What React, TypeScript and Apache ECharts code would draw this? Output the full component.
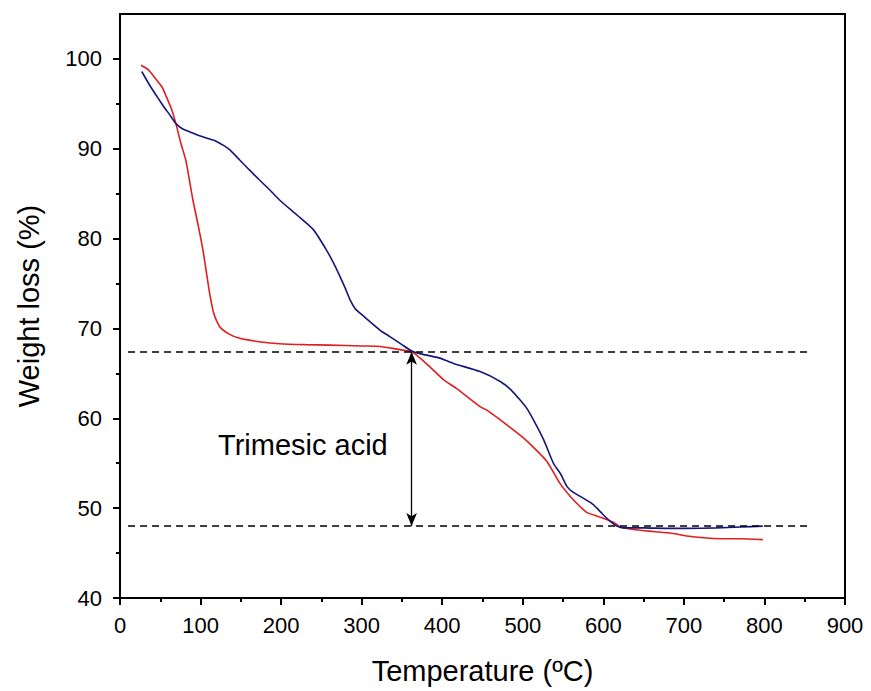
import React, { useEffect, useRef } from "react";
import * as echarts from "echarts";

// Red curve: temperature (°C), weight (%)
const redT = [26, 35, 45, 52, 57.5, 64, 69.4, 75, 82, 90.5, 97, 103, 108, 111.3, 116, 123.8, 135, 148.6, 175, 198, 230, 260, 300, 323, 343.5, 362, 372.5, 385, 401.5, 418, 447, 455.5, 497, 513, 530, 546.6, 559, 572, 580, 596, 613, 621, 640, 662, 685, 704, 725, 746, 770, 798];
const redW = [99.3, 98.8, 97.7, 96.9, 95.8, 94.4, 92.8, 90.8, 88.6, 84.3, 81.5, 78.7, 75.8, 73.9, 71.8, 70.2, 69.4, 68.9, 68.5, 68.3, 68.2, 68.15, 68.05, 68.0, 67.7, 67.4, 66.7, 65.7, 64.3, 63.3, 61.3, 60.9, 58.1, 56.8, 55.2, 52.7, 51.3, 50.1, 49.5, 49.0, 48.4, 47.9, 47.6, 47.4, 47.2, 46.9, 46.7, 46.6, 46.6, 46.5];

// Blue curve
const blueT = [27, 38, 49, 55, 61.6, 69.4, 78, 86.4, 97, 107, 118, 128, 136, 148.6, 160, 173.5, 185, 198, 220, 240, 256.5, 265, 273, 280, 285.5, 292, 302, 323, 335, 350, 362, 372.5, 397, 414, 447, 472, 485, 497, 505, 513.4, 526, 538, 547, 555, 562, 571.5, 579, 586, 592, 598.5, 604, 609, 617, 625, 650, 680, 704, 740, 770, 798];
const blueW = [98.6, 96.9, 95.4, 94.6, 93.8, 92.8, 92.2, 91.9, 91.5, 91.2, 90.9, 90.4, 89.9, 88.75, 87.7, 86.5, 85.5, 84.3, 82.6, 81.0, 78.7, 77.3, 75.8, 74.4, 73.2, 72.2, 71.4, 69.8, 69.1, 68.2, 67.5, 67.2, 66.7, 66.1, 65.2, 64.1, 63.2, 62.0, 61.1, 59.8, 57.6, 55.0, 53.8, 52.4, 51.8, 51.3, 50.9, 50.5, 50.0, 49.4, 48.9, 48.5, 48.0, 47.8, 47.8, 47.75, 47.75, 47.8, 47.9, 48.0];

// Annotations
const dashedLevels = [67.4, 48];
const dashedRange = [10, 857];
const arrowX = 362;
const annotationText = "Trimesic acid";
const annotationPos = [227, 57.0];

// Axis ticks
const yMajor = [40, 50, 60, 70, 80, 90, 100];
const yMinor = [45, 55, 65, 75, 85, 95];

const FONT = "'Liberation Sans', Arial, sans-serif";

export default function App() {
  const ref = useRef<HTMLDivElement>(null);
  useEffect(() => {
    if (!ref.current) return;
    const chart = echarts.init(ref.current, undefined, { renderer: "svg" });
    const zip = (a: number[], b: number[]) => a.map((v, i) => [v, b[i]]);
    const dashedData = dashedLevels.map((lv) => [
      { coord: [dashedRange[0], lv], symbol: "none" },
      { coord: [dashedRange[1], lv], symbol: "none" },
    ]);
    chart.setOption({
      animation: false,
      backgroundColor: "#ffffff",
      grid: {
        left: 120,
        top: 14,
        right: 26,
        bottom: 93,
        show: true,
        borderColor: "#000",
        borderWidth: 2,
        backgroundColor: "transparent",
      },
      xAxis: {
        type: "value",
        min: 0,
        max: 900,
        interval: 100,
        name: "Temperature (ºC)",
        nameLocation: "middle",
        nameGap: 58,
        nameTextStyle: { fontSize: 29, color: "#000", fontFamily: FONT },
        axisLine: { show: true, lineStyle: { color: "#000", width: 2 } },
        axisTick: { show: true, inside: false, length: 7, lineStyle: { color: "#000", width: 2 } },
        minorTick: { show: true, splitNumber: 2, length: 4, lineStyle: { color: "#000", width: 2 } },
        axisLabel: { fontSize: 22, color: "#000", fontFamily: FONT, margin: 16 },
        splitLine: { show: false },
      },
      yAxis: [
        {
          type: "value",
          min: 40,
          max: 105,
          interval: 10,
          name: "Weight loss (%)",
          nameLocation: "middle",
          nameGap: 77,
          nameTextStyle: { fontSize: 29, color: "#000", fontFamily: FONT },
          axisLine: { show: true, lineStyle: { color: "#000", width: 2 } },
          axisTick: { show: true, inside: false, length: 7, customValues: yMajor, lineStyle: { color: "#000", width: 2 } },
          axisLabel: { fontSize: 22, color: "#000", fontFamily: FONT, margin: 18, customValues: yMajor },
          splitLine: { show: false },
        },
        {
          type: "value",
          min: 40,
          max: 105,
          position: "left",
          axisLine: { show: false },
          axisTick: { show: true, inside: false, length: 4, customValues: yMinor, lineStyle: { color: "#000", width: 2 } },
          axisLabel: { show: false },
          splitLine: { show: false },
        },
      ],
      series: [
        {
          type: "line",
          data: zip(redT, redW),
          showSymbol: false,
          symbol: "none",
          smooth: 0.2,
          lineStyle: { color: "#e01e1e", width: 1.6 },
          silent: true,
          z: 3,
        },
        {
          type: "line",
          data: zip(blueT, blueW),
          showSymbol: false,
          symbol: "none",
          smooth: 0.2,
          lineStyle: { color: "#15157a", width: 1.6 },
          silent: true,
          z: 4,
        },
        {
          type: "line",
          data: [],
          silent: true,
          markLine: {
            silent: true,
            animation: false,
            symbol: ["none", "none"],
            label: { show: false },
            emphasis: { disabled: true },
            lineStyle: { color: "#000", width: 1.5, type: [7, 5] },
            data: dashedData,
          },
        },
        {
          type: "line",
          data: [],
          silent: true,
          markLine: {
            silent: true,
            animation: false,
            symbol: ["arrow", "arrow"],
            symbolSize: [8, 13],
            label: { show: false },
            emphasis: { disabled: true },
            lineStyle: { color: "#000", width: 1.3, type: "solid" },
            data: [[{ coord: [arrowX, dashedLevels[0]] }, { coord: [arrowX, dashedLevels[1]] }]],
          },
        },
        {
          type: "scatter",
          data: [annotationPos],
          symbolSize: 0,
          silent: true,
          itemStyle: { opacity: 1 },
          label: {
            show: true,
            position: "inside",
            formatter: annotationText,
            fontSize: 29,
            color: "#000",
            opacity: 1,
            textBorderWidth: 0,
            fontFamily: FONT,
          },
        },
      ],
    });
    return () => chart.dispose();
  }, []);
  return (
    <div
      ref={ref}
      style={{ position: "absolute", left: 0, top: 0, width: 871, height: 691 }}
    />
  );
}
